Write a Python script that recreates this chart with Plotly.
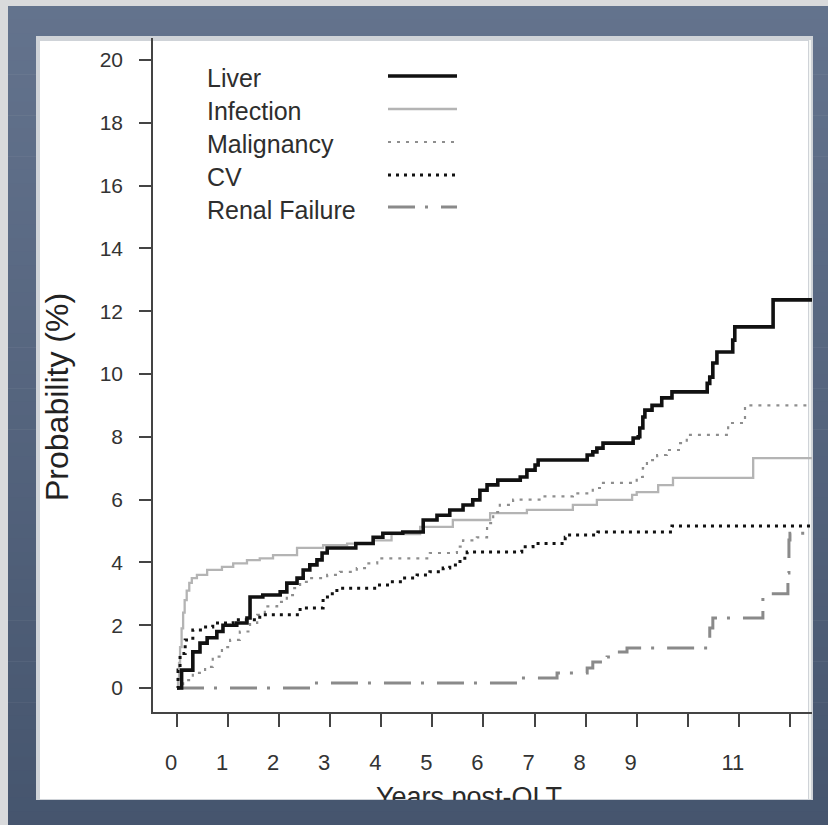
import plotly.graph_objects as go

# Cumulative probability (%) of death by cause after OLT (Kaplan-Meier style step curves)
liver_years = [0, 0.09, 0.31, 0.45, 0.59, 0.78, 0.9, 1.17, 1.37, 1.43, 1.68, 2.02, 2.15, 2.35, 2.47,
               2.6, 2.74, 2.84, 2.94, 3.5, 3.84, 4.03, 4.42, 4.82, 5.09, 5.34, 5.6, 5.79, 5.93, 6.07,
               6.28, 6.72, 6.85, 7.01, 7.07, 8.03, 8.14, 8.22, 8.34, 8.93, 9.03, 9.06, 9.12, 9.16,
               9.3, 9.49, 9.69, 10.38, 10.43, 10.49, 10.57, 10.88, 10.92, 11.67, 12.6]
liver_prob = [0, 0.57, 1.15, 1.43, 1.6, 1.8, 2.0, 2.07, 2.23, 2.9, 2.96, 3.06, 3.34, 3.5, 3.76,
              3.92, 4.08, 4.3, 4.46, 4.6, 4.8, 4.93, 4.97, 5.35, 5.5, 5.67, 5.83, 5.99, 6.3, 6.47,
              6.62, 6.72, 6.94, 7.1, 7.26, 7.42, 7.52, 7.64, 7.8, 7.96, 8.0, 8.28, 8.63, 8.85,
              9.0, 9.24, 9.43, 9.7, 9.9, 10.35, 10.7, 11.08, 11.5, 12.36, 12.36]

infection_years = [0, 0.02, 0.04, 0.06, 0.09, 0.12, 0.15, 0.19, 0.24, 0.29, 0.39, 0.59, 0.88, 1.1,
                   1.37, 1.62, 1.88, 2.35, 2.86, 3.33, 3.84, 4.2, 4.76, 5.4, 6.13, 6.85, 7.75, 8.22,
                   8.91, 9.0, 9.42, 9.71, 11.28, 12.6]
infection_prob = [0, 0.3, 0.8, 1.3, 1.9, 2.4, 2.8, 3.1, 3.35, 3.5, 3.6, 3.76, 3.86, 3.97,
                  4.07, 4.13, 4.23, 4.46, 4.55, 4.6, 4.7, 4.9, 5.13, 5.35, 5.57, 5.67, 5.83, 5.99,
                  6.15, 6.24, 6.46, 6.69, 7.32, 7.32]

malignancy_years = [0, 0.12, 0.31, 0.55, 0.7, 0.88, 1.04, 1.23, 1.43, 1.57, 1.72, 1.96, 2.15, 2.27,
                    2.41, 2.6, 2.94, 3.19, 3.52, 3.72, 3.92, 4.95, 5.48, 5.6, 5.87, 6.07, 6.19, 6.32,
                    6.58, 7.17, 7.75, 8.14, 8.34, 9.0, 9.12, 9.2, 9.4, 9.59, 9.85, 9.98, 10.79,
                    11.12, 12.6]
malignancy_prob = [0, 0.25, 0.48, 0.67, 1.0, 1.3, 1.53, 1.8, 2.07, 2.33, 2.6, 2.74, 2.96, 3.18,
                   3.38, 3.5, 3.6, 3.7, 3.82, 3.97, 4.13, 4.3, 4.5, 4.7, 4.8, 5.25, 5.6, 5.83,
                   6.0, 6.1, 6.2, 6.37, 6.53, 6.72, 7.0, 7.26, 7.42, 7.58, 7.8, 8.06, 8.44,
                   9.0, 9.0]

cv_years = [0, 0.02, 0.06, 0.16, 0.31, 0.51, 0.7, 1.1, 1.62, 2.41, 2.86, 3.0, 3.13, 3.92, 4.17,
            4.42, 4.7, 4.95, 5.21, 5.34, 5.54, 5.68, 6.75, 6.97, 7.6, 7.65, 8.24, 9.69, 12.6]
cv_prob = [0, 0.57, 1.1, 1.53, 1.85, 1.94, 2.07, 2.17, 2.33, 2.55, 2.9, 3.0, 3.18, 3.28, 3.38,
           3.5, 3.6, 3.7, 3.82, 3.92, 4.13, 4.33, 4.5, 4.6, 4.8, 4.87, 4.97, 5.16, 5.16]

renal_years = [0, 2.7, 6.72, 7.44, 8.03, 8.14, 8.42, 8.61, 8.81, 10.43, 10.49, 11.47, 11.96,
               11.98, 12.0, 12.6]
renal_prob = [0, 0.16, 0.32, 0.48, 0.64, 0.83, 0.99, 1.15, 1.27, 1.91, 2.23, 3.0, 3.66,
              4.71, 4.93, 4.93]

x_tickvals = list(range(0, 13))
x_ticktext = ["0", "1", "2", "3", "4", "5", "6", "7", "8", "9", "", "11", ""]
y_tickvals = list(range(0, 21, 2))

legend_names = ["Liver", "Infection", "Malignancy", "CV", "Renal Failure"]

FONT = "Liberation Sans, Arial, Helvetica, sans-serif"
W, H = 828, 825
# inner white panel (pixel edges)
PL, PR, PT, PB = 38, 812, 38, 800
# axes box inside the panel (pixel edges)
AX_L, AX_B = 153, 712


def px_x(px):
    return (px - PL) / (PR - PL)


def px_y(py):
    return (PB - py) / (PB - PT)


styles = {
    "Liver": dict(color="#111111", width=3.6, dash="solid"),
    "Infection": dict(color="#b4b4b4", width=2.3, dash="solid"),
    "Malignancy": dict(color="#8e8e8e", width=2.2, dash="3px,6px"),
    "CV": dict(color="#111111", width=3.0, dash="3px,5px"),
    "Renal Failure": dict(color="#8a8a8a", width=3.0, dash="27px,10px,3px,13px"),
}

series = {
    "Liver": (liver_years, liver_prob),
    "Infection": (infection_years, infection_prob),
    "Malignancy": (malignancy_years, malignancy_prob),
    "CV": (cv_years, cv_prob),
    "Renal Failure": (renal_years, renal_prob),
}

fig = go.Figure()

# draw order: light curves first, black on top
for name in ["Renal Failure", "Infection", "Malignancy", "CV", "Liver"]:
    xs, ys = series[name]
    st = styles[name]
    fig.add_trace(go.Scatter(
        x=xs, y=ys, mode="lines", name=name, showlegend=False,
        line=dict(color=st["color"], width=st["width"], dash=st["dash"], shape="hv"),
        hoverinfo="skip", xaxis="x", yaxis="y",
    ))

# x-axis title, clipped at the panel's bottom edge
fig.add_trace(go.Scatter(
    x=[(469 - AX_L) / (PR - AX_L)], y=[0.02], mode="text", text=["Years post-OLT"],
    textposition="middle center", cliponaxis=True, showlegend=False, hoverinfo="skip",
    textfont=dict(family=FONT, size=27, color="#2a2a2a"), xaxis="x2", yaxis="y2",
))

shapes = []
# frame: light outer strip, then blue-gray vertical gradient
top_c = (99, 115, 141)
bot_c = (70, 85, 110)
n_bands = 60
y0, y1 = 6, H
for i in range(n_bands):
    a = y0 + (y1 - y0) * i / n_bands
    b = y0 + (y1 - y0) * (i + 1) / n_bands + 0.6
    f = i / (n_bands - 1)
    c = tuple(round(top_c[k] + (bot_c[k] - top_c[k]) * f) for k in range(3))
    shapes.append(dict(type="rect", xref="paper", yref="paper", layer="below",
                       x0=px_x(8), x1=px_x(W + 2), y0=px_y(a), y1=px_y(b),
                       fillcolor="rgb(%d,%d,%d)" % c, line=dict(width=0)))
# white panel with bevelled edges
shapes.append(dict(type="rect", xref="paper", yref="paper", layer="below",
                   x0=px_x(PL - 2), x1=px_x(PR + 1), y0=px_y(PB), y1=px_y(PT - 2),
                   fillcolor="#cfd3d8", line=dict(width=0)))
shapes.append(dict(type="rect", xref="paper", yref="paper", layer="below",
                   x0=px_x(PL + 2), x1=px_x(PR - 4), y0=px_y(PB - 1), y1=px_y(PT + 3),
                   fillcolor="#ffffff", line=dict(width=0)))
shapes.append(dict(type="line", xref="paper", yref="paper", layer="below",
                   x0=px_x(PR - 2), x1=px_x(PR - 2), y0=px_y(PB - 1), y1=px_y(PT + 2),
                   line=dict(color="#f4f6f4", width=2)))

# legend keys (text on the left, line sample on the right)
annotations = []
key_rows = [76, 109, 142, 175, 207]
text_rows = [78, 111, 144, 177, 210]
for name, ky, ty in zip(legend_names, key_rows, text_rows):
    st = styles[name]
    shapes.append(dict(type="line", xref="paper", yref="paper", layer="above",
                       x0=px_x(388), x1=px_x(457), y0=px_y(ky), y1=px_y(ky),
                       line=dict(color=st["color"], width=st["width"], dash=st["dash"])))
    annotations.append(dict(text=name, xref="paper", yref="paper", x=px_x(205), y=px_y(ty),
                            xanchor="left", yanchor="middle", showarrow=False,
                            font=dict(family=FONT, size=25, color="#2e2e2e")))

annotations.append(dict(text="Probability (%)", xref="paper", yref="paper",
                        x=px_x(57), y=px_y(397), textangle=-90, xanchor="center",
                        yanchor="middle", showarrow=False,
                        font=dict(family=FONT, size=32, color="#222222")))

x_dom = [(AX_L - PL) / (PR - PL), 1.0]
y_dom = [(PB - AX_B) / (PB - PT), 1.0]
px_per_year = 51.08
px_per_pct = 31.4
x_range = [(AX_L - 177) / px_per_year, (PR - 177) / px_per_year]
y_range = [(688 - AX_B) / px_per_pct, (688 - PT) / px_per_pct]

fig.update_layout(
    width=W, height=H,
    margin=dict(l=PL, r=W - PR, t=PT, b=H - PB, pad=0),
    paper_bgcolor="#d9dadc",
    plot_bgcolor="rgba(0,0,0,0)",
    showlegend=False,
    hovermode=False,
    shapes=shapes,
    annotations=annotations,
    xaxis=dict(
        domain=x_dom, range=x_range, anchor="y",
        tickmode="array", tickvals=x_tickvals, ticktext=x_ticktext,
        ticks="outside", ticklen=13, tickwidth=1.6, tickcolor="#444444",
        showline=True, linecolor="#444444", linewidth=1.6,
        showgrid=False, zeroline=False,
        tickfont=dict(family=FONT, size=22, color="#333333"),
        ticklabelshift=-6, ticklabelstandoff=17,
    ),
    yaxis=dict(
        domain=y_dom, range=y_range, anchor="x",
        tickmode="array", tickvals=y_tickvals,
        ticks="outside", ticklen=12, tickwidth=1.6, tickcolor="#444444",
        showline=True, linecolor="#444444", linewidth=1.6,
        showgrid=False, zeroline=False,
        tickfont=dict(family=FONT, size=21, color="#333333"),
        ticklabelstandoff=12,
    ),
    xaxis2=dict(domain=x_dom, range=[0, 1], anchor="y2", visible=False, fixedrange=True),
    yaxis2=dict(domain=[0, 0.07], range=[0, 1], anchor="x2", visible=False, fixedrange=True),
)

fig.write_html("out.html")
